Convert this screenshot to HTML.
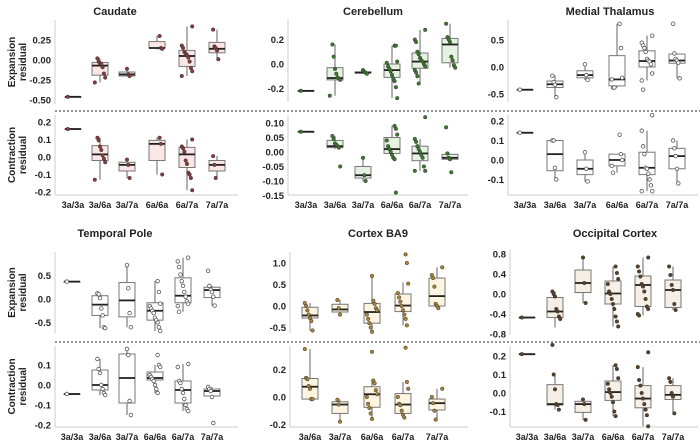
<!DOCTYPE html>
<html><head><meta charset="utf-8">
<style>
html,body{margin:0;padding:0;background:#fff;}
svg{display:block;font-family:"Liberation Sans",sans-serif;}
</style></head>
<body>
<svg id="chart" width="700" height="440" viewBox="0 0 700 440" xmlns="http://www.w3.org/2000/svg"></svg>
<script>
// ---- data arrays ----
const catsSix = ["3a/3a","3a/6a","3a/7a","6a/6a","6a/7a","7a/7a"];
const catsFive = ["3a/6a","3a/7a","6a/6a","6a/7a","7a/7a"];
const panelTitles = ["Caudate","Cerebellum","Medial Thalamus","Temporal Pole","Cortex BA9","Occipital Cortex"];

// [q1, median, q3, whiskerLow, whiskerHigh] per group
const caudateExpStats = [[-0.46,-0.46,-0.46,-0.46,-0.46],[-0.19,-0.07,-0.03,-0.28,0.02],[-0.2,-0.18,-0.15,-0.2,-0.11],[0.15,0.15,0.23,0.13,0.3],[-0.08,0.05,0.12,-0.2,0.42],[0.09,0.14,0.22,0.01,0.38]];
const caudateExpPts = [[-0.46],[0.02,-0.02,-0.04,-0.05,-0.09,-0.17,-0.22,-0.28],[-0.11,-0.18,-0.2],[0.3,0.15,0.14],[0.42,0.18,0.15,0.1,0.08,0.06,0.03,-0.02,-0.1,-0.14,-0.2],[0.38,0.17,0.15,0.12,0.01]];
const caudateConStats = [[0.16,0.16,0.16,0.16,0.16],[-0.02,0.015,0.065,-0.13,0.11],[-0.08,-0.045,-0.03,-0.12,-0.015],[-0.02,0.075,0.095,-0.1,0.11],[-0.06,0.015,0.055,-0.19,0.1],[-0.08,-0.045,-0.02,-0.12,0.005]];
const caudateConPts = [[0.16],[0.11,0.095,0.06,0.04,0.01,-0.01,-0.03,-0.13],[-0.015,-0.045,-0.12],[0.11,0.075,-0.1],[0.1,0.06,0.05,0.03,-0.02,-0.04,-0.09,-0.1,-0.12,-0.19],[0.005,-0.045,-0.12]];

const cerebExpStats = [[-0.22,-0.22,-0.22,-0.22,-0.22],[-0.13,-0.115,-0.03,-0.26,0.16],[-0.075,-0.07,-0.065,-0.08,-0.05],[-0.11,-0.05,0.0,-0.28,0.15],[-0.035,0.02,0.09,-0.16,0.28],[0.01,0.16,0.21,-0.03,0.33]];
const cerebExpPts = [[-0.22],[0.16,0.06,-0.04,-0.08,-0.11,-0.12,-0.13,-0.26],[-0.05,-0.065,-0.07,-0.08],[0.15,0.15,0.02,0.01,-0.02,-0.04,-0.06,-0.09,-0.12,-0.14,-0.19,-0.28],[0.28,0.2,0.18,0.1,0.08,0.05,0.03,0.02,0.0,-0.02,-0.05,-0.07,-0.1,-0.16],[0.33,0.22,0.2,0.18,0.06,0.03,-0.01,-0.03]];
const cerebConStats = [[0.07,0.07,0.07,0.07,0.07],[0.015,0.02,0.04,0.01,0.055],[-0.09,-0.08,-0.05,-0.1,-0.02],[-0.005,0.01,0.05,-0.025,0.09],[-0.03,-0.005,0.02,-0.065,0.045],[-0.025,-0.02,-0.008,-0.025,-0.005]];
const cerebConPts = [[0.07],[0.055,0.045,0.03,0.025,0.02,0.015,-0.05],[-0.02,-0.08,-0.1],[0.09,0.08,0.06,0.04,0.02,0.01,0.0,-0.01,-0.02,-0.025,-0.14],[0.12,0.045,0.035,0.02,0.01,0.0,-0.01,-0.02,-0.05,-0.065,-0.065],[0.085,-0.005,-0.02,-0.025,-0.07]];

const thalExpStats = [[-0.42,-0.42,-0.42,-0.42,-0.42],[-0.38,-0.32,-0.26,-0.56,-0.16],[-0.2,-0.15,-0.07,-0.24,0.05],[-0.35,-0.23,0.21,-0.38,0.8],[0.0,0.11,0.3,-0.25,0.58],[0.07,0.12,0.24,-0.21,0.25]];
const thalExpPts = [[-0.42],[-0.16,-0.28,-0.33,-0.56],[0.05,-0.15,-0.24],[0.8,0.35,-0.2,-0.23,-0.38,-0.38],[0.58,0.45,0.4,0.35,0.28,0.15,0.12,0.1,0.05,-0.12,-0.25,-0.42],[0.8,0.25,0.15,0.12,0.08,-0.21]];
const thalConStats = [[0.14,0.14,0.14,0.14,0.14],[-0.055,0.03,0.1,-0.1,0.1],[-0.075,-0.045,0.0,-0.11,0.04],[-0.03,0.0,0.03,-0.065,0.03],[-0.075,-0.04,0.04,-0.16,0.15],[-0.045,0.02,0.06,-0.12,0.1]];
const thalConPts = [[0.14],[0.1,0.1,-0.04,-0.1],[0.04,-0.045,-0.11],[0.13,0.03,0.0,-0.03,-0.065],[0.23,0.15,0.07,0.03,-0.04,-0.045,-0.07,-0.1,-0.13,-0.16,-0.16],[0.1,0.06,0.02,-0.045,-0.12]];

const tempExpStats = [[0.37,0.37,0.37,0.37,0.37],[-0.35,-0.12,0.07,-0.62,0.12],[-0.38,-0.03,0.35,-0.6,0.72],[-0.45,-0.25,-0.08,-0.68,0.38],[-0.08,0.07,0.45,-0.27,0.88],[0.03,0.19,0.25,-0.14,0.28]];
const tempExpPts = [[0.37],[0.12,0.1,0.02,-0.2,-0.35,-0.6,-0.62],[0.72,0.23,-0.3,-0.6],[0.38,0.15,-0.1,-0.15,-0.2,-0.25,-0.3,-0.4,-0.45,-0.5,-0.6,-0.68],[0.88,0.8,0.68,0.52,0.38,0.28,0.15,0.05,-0.05,-0.1,-0.15,-0.27],[0.6,0.28,0.2,0.15,0.05,-0.14]];
const tempConStats = [[-0.045,-0.045,-0.045,-0.045,-0.045],[-0.025,0.0,0.075,-0.05,0.13],[-0.09,0.035,0.155,-0.15,0.18],[0.025,0.035,0.065,-0.04,0.1],[-0.09,-0.025,0.02,-0.13,0.105],[-0.055,-0.03,-0.02,-0.06,-0.01]];
const tempConPts = [[-0.045],[0.13,0.08,0.06,0.0,-0.02,-0.04,-0.05],[0.18,0.15,-0.08,-0.15],[0.15,0.1,0.09,0.05,0.04,0.03,0.02,0.0,-0.02,-0.04],[0.105,0.09,0.02,0.01,-0.02,-0.04,-0.07,-0.1,-0.12,-0.13],[-0.01,-0.02,-0.03,-0.06,-0.19]];

const ba9ExpStats = [[-0.28,-0.22,-0.03,-0.57,0.07],[-0.14,-0.08,0.04,-0.2,0.14],[-0.4,-0.14,0.06,-0.6,0.7],[-0.13,0.01,0.28,-0.45,0.55],[0.0,0.23,0.65,-0.05,0.9]];
const ba9ExpPts = [[0.07,0.0,-0.1,-0.2,-0.28,-0.35,-0.57],[0.14,-0.05,-0.2],[0.7,0.12,0.05,-0.05,-0.1,-0.2,-0.3,-0.4,-0.5,-0.6],[1.2,1.0,0.52,0.3,0.2,0.1,0.0,-0.1,-0.2,-0.3,-0.45],[0.9,0.72,0.65,0.45,0.05,0.0,-0.05]];
const ba9ConStats = [[-0.015,0.075,0.135,-0.015,0.35],[-0.12,-0.055,-0.035,-0.18,-0.02],[-0.075,0.02,0.075,-0.16,0.12],[-0.12,-0.055,0.025,-0.15,0.11],[-0.095,-0.045,-0.015,-0.165,0.06]];
const ba9ConPts = [[0.35,0.14,0.13,0.08,0.06,-0.015,-0.015],[-0.02,-0.055,-0.18],[0.33,0.12,0.1,0.05,0.02,0.0,-0.05,-0.08,-0.12,-0.16],[0.36,0.11,0.06,0.0,-0.05,-0.06,-0.1,-0.13,-0.15],[0.06,0.0,-0.045,-0.1,-0.165]];

const occExpStats = [[-0.47,-0.47,-0.47,-0.47,-0.47],[-0.47,-0.35,-0.07,-0.67,0.05],[0.03,0.22,0.48,-0.18,0.73],[-0.2,0.01,0.26,-0.65,0.55],[-0.25,0.18,0.36,-0.43,0.73],[-0.27,0.08,0.28,-0.32,0.55]];
const occExpPts = [[-0.47],[0.05,0.0,-0.05,-0.3,-0.35,-0.45,-0.5],[0.73,0.22,-0.18],[0.55,0.42,0.3,0.2,0.05,0.0,-0.1,-0.2,-0.3,-0.45,-0.55,-0.65],[0.73,0.55,0.45,0.35,0.2,0.15,0.05,-0.1,-0.25,-0.3,-0.4,-0.43],[0.55,0.38,0.18,0.08,-0.2,-0.32]];
const occConStats = [[0.21,0.21,0.21,0.21,0.21],[-0.065,-0.06,0.045,-0.09,0.1],[-0.105,-0.06,-0.045,-0.145,-0.035],[-0.04,0.005,0.065,-0.125,0.15],[-0.08,-0.03,0.04,-0.18,0.14],[-0.035,-0.01,0.04,-0.11,0.08]];
const occConPts = [[0.21],[0.26,0.1,0.02,-0.06,-0.065,-0.09],[-0.035,-0.06,-0.145],[0.15,0.13,0.08,0.05,0.02,0.0,-0.02,-0.05,-0.1,-0.125],[0.22,0.14,0.07,0.04,0.0,-0.03,-0.06,-0.09,-0.12,-0.18],[0.08,0.06,0.0,-0.02,-0.11]];

const caudateExpTicks=["0.25","0.00","-0.25","-0.50"], caudateConTicks=["0.2","0.1","0.0","-0.1","-0.2"];
const cerebExpTicks=["0.2","0.0","-0.2"], cerebConTicks=["0.10","0.05","0.00","-0.05","-0.10","-0.15"];
const thalExpTicks=["0.5","0.0","-0.5"], thalConTicks=["0.2","0.1","0.0","-0.1"];
const tempExpTicks=["0.5","0.0","-0.5"], tempConTicks=["0.1","0.0","-0.1","-0.2"];
const ba9ExpTicks=["1.0","0.5","0.0","-0.5"], ba9ConTicks=["0.2","0.0","-0.2"];
const occExpTicks=["0.8","0.4","0.0","-0.4","-0.8"], occConTicks=["0.2","0.1","0.0","-0.1"];

// ---- layout ----
const NS="http://www.w3.org/2000/svg";
const svg=document.getElementById('chart');
function mk(tag,attrs,parent){const e=document.createElementNS(NS,tag);for(const k in attrs)e.setAttribute(k,attrs[k]);(parent||svg).appendChild(e);return e;}

const panels=[
 {title:panelTitles[0],tx:115,ty:15,ax:55,right:238,cats:catsSix,xs:[73,100,127,157,187,217],fill:"#fbe6e6",pc:"#8a3b3b",hollow:false,
  top:{stats:caudateExpStats,pts:caudateExpPts,ticks:caudateExpTicks,z:60,k:80,y1:20,y2:104},
  bot:{stats:caudateConStats,pts:caudateConPts,ticks:caudateConTicks,z:157,k:175,y1:115,y2:195},ylab:true},
 {title:panelTitles[1],tx:373,ty:15,ax:288,right:468,cats:catsSix,xs:[306,335,363,392,420,450],fill:"#e5f2e1",pc:"#3d7a2e",hollow:false,
  top:{stats:cerebExpStats,pts:cerebExpPts,ticks:cerebExpTicks,z:64,k:122,y1:20,y2:102},
  bot:{stats:cerebConStats,pts:cerebConPts,ticks:cerebConTicks,z:152,k:290,y1:115,y2:195}},
 {title:panelTitles[2],tx:610,ty:15,ax:508,right:698,cats:catsSix,xs:[525,555,585,617,647,677],fill:"#ffffff",pc:"#666",hollow:true,
  top:{stats:thalExpStats,pts:thalExpPts,ticks:thalExpTicks,z:67,k:54,y1:20,y2:102},
  bot:{stats:thalConStats,pts:thalConPts,ticks:thalConTicks,z:160,k:195,y1:115,y2:195}},
 {title:panelTitles[3],tx:115,ty:237,ax:55,right:238,cats:catsSix,xs:[72,100,127,155,183,212],fill:"#ffffff",pc:"#666",hollow:true,
  top:{stats:tempExpStats,pts:tempExpPts,ticks:tempExpTicks,z:299,k:47,y1:252,y2:333},
  bot:{stats:tempConStats,pts:tempConPts,ticks:tempConTicks,z:385,k:200,y1:346,y2:427},ylab:true},
 {title:panelTitles[4],tx:378,ty:237,ax:290,right:468,cats:catsFive,xs:[310,340,372,403,437],fill:"#fdf4e2",pc:"#a98535",hollow:false,
  top:{stats:ba9ExpStats,pts:ba9ExpPts,ticks:ba9ExpTicks,z:306,k:43,y1:252,y2:333},
  bot:{stats:ba9ConStats,pts:ba9ConPts,ticks:ba9ConTicks,z:397,k:137,y1:346,y2:427}},
 {title:panelTitles[5],tx:615,ty:237,ax:510,right:698,cats:catsSix,xs:[527,555,583,613,643,673],fill:"#f6efe5",pc:"#5a4126",hollow:false,
  top:{stats:occExpStats,pts:occExpPts,ticks:occExpTicks,z:294,k:50,y1:250,y2:335},
  bot:{stats:occConStats,pts:occConPts,ticks:occConTicks,z:393,k:185,y1:346,y2:427}}
];

// dashed separators
[111,342].forEach((y,i)=>{
  const l=mk('line',{x1:55,x2:700,y1:y,y2:y,stroke:"#555","stroke-width":1.2,"stroke-dasharray":"2,2"});
  
  
});

panels.forEach((p,pi)=>{
  const g=mk('g',{});
  
  
  const t=mk('text',{x:p.tx,y:p.ty,"text-anchor":"middle","font-size":11,"font-weight":"bold",fill:"#222"},g);
  t.textContent=p.title;
  
  
  ['top','bot'].forEach(which=>{
    const s=p[which];
    const yv=v=>s.z-v*s.k;
    const sg=mk('g',{},g);
    
    
    const ax=mk('line',{x1:p.ax,x2:p.ax,y1:s.y1,y2:s.y2,stroke:"#ccc","stroke-width":1},sg);
    
    
    if(which==='bot'){
      const xa=mk('line',{x1:p.ax,x2:p.right,y1:s.y2,y2:s.y2,stroke:"#ccc","stroke-width":1},sg);
      
      
    }
    s.ticks.forEach(tl=>{
      const tt=mk('text',{x:p.ax-4,y:yv(parseFloat(tl))+3.5,"text-anchor":"end","font-size":9.5,"font-weight":"bold",fill:"#222"},sg);
      tt.textContent=tl;
      
      
    });
    s.stats.forEach((st,ci)=>{
      const cx=p.xs[ci], w=16;
      const [q1,md,q3,lo,hi]=st;
      const bg=mk('g',{},sg);
      
      
      mk('line',{x1:cx,x2:cx,y1:yv(hi),y2:yv(q3),stroke:"#666","stroke-width":1},bg);
      mk('line',{x1:cx,x2:cx,y1:yv(q1),y2:yv(lo),stroke:"#666","stroke-width":1},bg);
      mk('rect',{x:cx-w/2,y:yv(q3),width:w,height:Math.max(0.5,yv(q1)-yv(q3)),fill:p.fill,stroke:"#777","stroke-width":1},bg);
      mk('line',{x1:cx-w/2,x2:cx+w/2,y1:yv(md),y2:yv(md),stroke:"#222","stroke-width":1.8},bg);
      s.pts[ci].forEach((v,i)=>{
        const jit=(((i*37+ci*11)%9)-4)*1.3;
        const c=mk('circle',{cx:cx+jit,cy:yv(v),r:1.8,fill:p.hollow?"#fff":p.pc,stroke:p.hollow?"#555":"#333","stroke-width":p.hollow?0.8:0.5},bg);
        
        
      });
    });
    if(which==='bot'){
      p.cats.forEach((c,ci)=>{
        const xt=mk('text',{x:p.xs[ci],y:s.y2+13,"text-anchor":"middle","font-size":9,"font-weight":"bold",fill:"#222"},sg);
        xt.textContent=c;
        
        
      });
    }
  });
  if(p.ylab){
    [[p.top,"Expansion"],[p.bot,"Contraction"]].forEach(([s,lab])=>{
      const cy=(s.y1+s.y2)/2;
      const yt=mk('text',{transform:`translate(15,${cy}) rotate(-90)`,"text-anchor":"middle","font-size":10,"font-weight":"bold",fill:"#222"},g);
      
      
      const a=mk('tspan',{x:0,dy:0},yt); a.textContent=lab;
      const b=mk('tspan',{x:0,dy:11},yt); b.textContent="residual";
    });
  }
});
</script>
</body></html>
